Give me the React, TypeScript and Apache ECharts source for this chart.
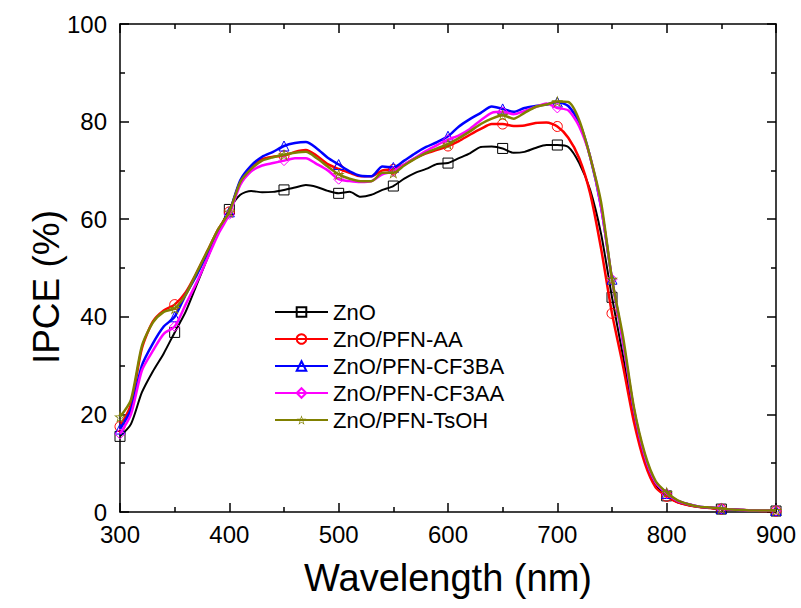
import React, { useEffect, useRef } from "react";
import * as echarts from "echarts";

const wavelengths: number[] = [];
for (let w = 300; w <= 900; w += 10) wavelengths.push(w);

const seriesNames = ["ZnO", "ZnO/PFN-AA", "ZnO/PFN-CF3BA", "ZnO/PFN-CF3AA", "ZnO/PFN-TsOH"];

const znO = [
  15.5, 18.0, 24.5, 28.8, 32.5, 36.8, 41.0, 46.5, 52.0, 57.5,
  62.0, 65.0, 65.8, 65.5, 65.6, 66.0, 66.5, 67.0, 66.6, 65.8,
  65.3, 65.6, 64.6, 65.0, 66.0, 66.8, 68.3, 69.5, 70.3, 71.3,
  71.5, 72.5, 73.5, 74.8, 74.9, 74.5, 73.6, 73.8, 74.6, 75.2,
  75.2, 74.8, 71.5, 66.0, 57.0, 44.0, 32.0, 19.5, 10.5, 5.5,
  3.3, 2.0, 1.4, 1.0, 0.8, 0.6, 0.5, 0.4, 0.3, 0.2, 0.2,
];
const pfnAA = [
  17.5, 22.0, 33.5, 39.0, 41.3, 42.5, 45.0, 49.0, 53.5, 58.0,
  61.5, 67.6, 70.5, 72.3, 72.8, 73.0, 73.8, 74.2, 73.0, 71.3,
  70.3, 69.5, 68.8, 68.8, 70.0, 70.2, 71.2, 72.5, 73.5, 74.2,
  75.0, 76.0, 77.3, 78.5, 79.5, 79.5, 79.1, 79.2, 79.7, 79.8,
  79.0, 76.7, 72.5, 65.3, 54.0, 40.7, 30.0, 18.5, 10.0, 5.0,
  3.2, 2.0, 1.4, 1.0, 0.8, 0.6, 0.5, 0.4, 0.3, 0.2, 0.2,
];
const pfnCF3BA = [
  17.0, 21.0, 30.0, 34.5, 38.0, 40.0, 44.5, 48.5, 53.0, 57.5,
  61.5, 68.0, 71.0, 72.8, 73.8, 75.0, 75.6, 75.8, 74.5, 72.6,
  71.2, 69.8, 68.9, 68.8, 70.8, 70.6, 72.0, 73.5, 74.8, 75.8,
  77.0, 79.0, 80.5, 81.8, 83.1, 82.6, 82.0, 82.8, 83.2, 83.5,
  84.0, 83.2, 79.8, 72.8, 62.5, 47.7, 35.0, 21.0, 11.5, 6.0,
  3.8, 2.3, 1.6, 1.1, 0.9, 0.7, 0.5, 0.4, 0.3, 0.3, 0.3,
];
const pfnCF3AA = [
  16.0, 20.0, 29.0, 33.0, 36.5, 38.0, 42.5, 47.0, 52.0, 57.0,
  61.0, 67.0, 69.8, 71.0, 71.5, 72.0, 72.5, 72.5, 71.3, 70.0,
  68.2, 67.8, 67.6, 67.8, 69.2, 69.8, 71.2, 72.6, 74.0, 75.2,
  76.3, 77.2, 78.5, 80.3, 81.8, 82.0, 81.5, 82.2, 83.0, 83.7,
  82.8, 82.3, 79.0, 72.8, 62.5, 47.7, 35.0, 21.0, 11.5, 6.0,
  3.8, 2.3, 1.6, 1.1, 0.9, 0.7, 0.5, 0.4, 0.3, 0.3, 0.3,
];
const pfnTsOH = [
  19.5, 23.0, 34.0, 38.8, 41.0, 41.7, 44.5, 49.0, 53.5, 58.0,
  61.5, 67.6, 70.3, 72.0, 72.7, 73.2, 73.6, 73.8, 72.5, 70.8,
  69.2, 68.3, 67.8, 67.8, 69.5, 69.5, 71.0, 72.4, 73.6, 74.5,
  75.4, 76.6, 78.0, 79.5, 80.6, 81.3, 80.6, 81.8, 83.0, 83.5,
  84.1, 84.0, 80.3, 72.8, 63.5, 47.7, 36.0, 21.5, 12.0, 6.3,
  4.0, 2.4, 1.6, 1.1, 0.9, 0.7, 0.5, 0.4, 0.3, 0.3, 0.3,
];

const seriesValues = [znO, pfnAA, pfnCF3BA, pfnCF3AA, pfnTsOH];
const colors = ["#000000", "#ff0000", "#0000ff", "#ff00ff", "#808000"];
// hollow star outline (outer star + reversed inner star)
const STAR =
  "path://M50,0 L61.23,34.55 L97.55,34.55 L68.17,55.9 L79.39,90.45 L50,69.1 L20.61,90.45 L31.83,55.9 L2.45,34.55 L38.77,34.55 Z " +
  "M50,20 L43.26,40.73 L21.47,40.73 L39.1,53.54 L32.37,74.27 L50,61.46 L67.63,74.27 L60.9,53.54 L78.53,40.73 L56.74,40.73 Z";
const symbols = ["rect", "circle", "triangle", "diamond", STAR];
const lineWidths = [2, 2.5, 2.5, 2.5, 2.5];

const xTicks = { min: 300, max: 900, interval: 100 };
const yTicks = { min: 0, max: 100, interval: 20 };

const FONT = '"Liberation Sans", Arial, sans-serif';

export default function App() {
  const ref = useRef<HTMLDivElement>(null);
  useEffect(() => {
    if (!ref.current) return;
    const chart = echarts.init(ref.current, undefined, { renderer: "svg" });
    const axisCommon = {
      axisLine: { show: true, onZero: false, lineStyle: { color: "#000", width: 1.5 } },
      axisTick: { show: true, inside: true, length: 9, lineStyle: { color: "#000", width: 1.5 } },
      minorTick: { show: true, splitNumber: 2, length: 5, lineStyle: { color: "#000", width: 1.5 } },
      splitLine: { show: false },
    };
    const markerStyle = (i: number) =>
      i === 4
        ? { color: colors[i], borderWidth: 0 }
        : { color: "rgba(255,255,255,0)", borderColor: colors[i], borderWidth: 1 };
    const series = seriesNames.map((name, i) => ({
      name,
      type: "line",
      xAxisIndex: 0,
      yAxisIndex: 0,
      smooth: 0.25,
      symbol: symbols[i],
      symbolSize: i === 4 ? 12 : 10,
      showSymbol: true,
      showAllSymbol: true,
      data: wavelengths.map((w, j) => ({
        value: [w, seriesValues[i][j]],
        symbol: w % 50 === 0 ? symbols[i] : "none",
      })),
      lineStyle: { color: colors[i], width: lineWidths[i] },
      itemStyle: markerStyle(i),
      emphasis: { disabled: true },
      z: 2 + i,
    }));
    chart.setOption({
      animation: false,
      backgroundColor: "#ffffff",
      textStyle: { fontFamily: FONT },
      grid: { left: 120, right: 25, top: 24, bottom: 96, containLabel: false },
      legend: {
        show: true,
        orient: "vertical",
        left: 274,
        top: 301,
        padding: 0,
        itemWidth: 53,
        itemHeight: 12,
        itemGap: 5,
        textStyle: { fontSize: 22, color: "#000", fontFamily: FONT },
        data: seriesNames,
      },
      xAxis: [
        {
          type: "value",
          position: "bottom",
          ...xTicks,
          ...axisCommon,
          axisLabel: { fontSize: 24, color: "#000", margin: 10, fontFamily: FONT },
          name: "Wavelength (nm)",
          nameLocation: "middle",
          nameGap: 47,
          nameTextStyle: { fontSize: 38, color: "#000", fontFamily: FONT },
        },
        {
          type: "value",
          position: "top",
          ...xTicks,
          ...axisCommon,
          axisLabel: { show: false },
        },
      ],
      yAxis: [
        {
          type: "value",
          position: "left",
          ...yTicks,
          ...axisCommon,
          axisLabel: { fontSize: 24, color: "#000", margin: 13, fontFamily: FONT },
        },
        {
          type: "value",
          position: "right",
          ...yTicks,
          ...axisCommon,
          axisLabel: { show: false },
        },
      ],
      graphic: [
        {
          type: "text",
          x: 46,
          y: 287,
          rotation: Math.PI / 2,
          style: {
            text: "IPCE (%)",
            fontSize: 37,
            fontFamily: FONT,
            fill: "#000",
            textAlign: "center",
            textVerticalAlign: "middle",
          },
        },
      ],
      series,
    });
    return () => chart.dispose();
  }, []);
  return (
    <div
      ref={ref}
      style={{ position: "absolute", left: 0, top: 0, width: 801, height: 608 }}
    />
  );
}
